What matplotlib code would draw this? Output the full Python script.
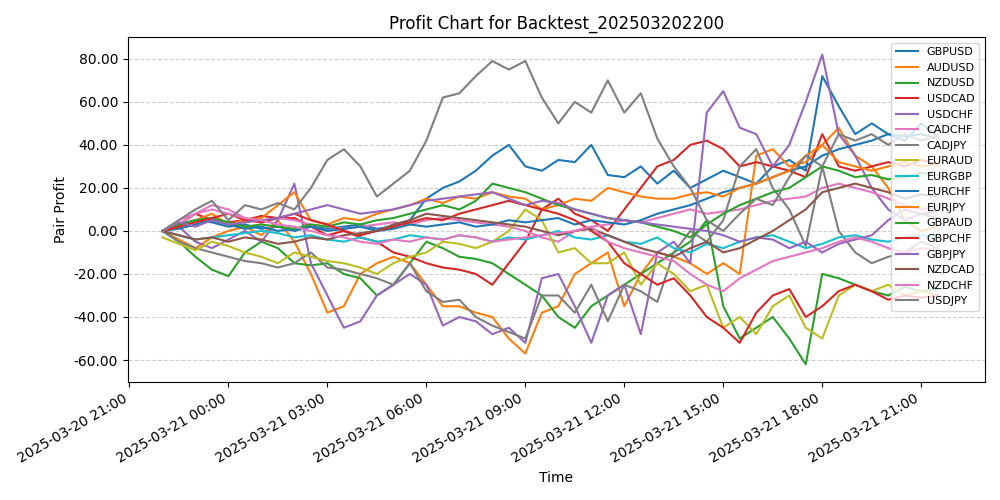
import matplotlib
matplotlib.use("Agg")
import matplotlib.pyplot as plt
import matplotlib.dates as mdates
import pandas as pd

times = pd.date_range("2025-03-20 22:00", "2025-03-21 21:30", freq="30min")

GBPUSD = [0,3,5,4,2,3,1,2,0,2,1,2,3,1,2,5,15,20,23,28,35,40,30,28,33,32,40,26,25,30,22,28,20,24,28,25,22,30,33,28,72,58,45,50,45,42,50,44]
AUDUSD = [0,-4,-8,-3,0,2,-2,5,-5,-20,-38,-35,-20,-15,-12,-15,-25,-35,-35,-38,-40,-50,-57,-38,-35,-20,-15,-10,-35,-20,-10,-12,-15,-20,-15,-20,35,38,30,32,40,48,35,30,20,5,0,2]
NZDUSD = [0,-5,-12,-18,-21,-10,-5,-8,-15,-16,-15,-20,-22,-30,-25,-15,-5,-8,-12,-13,-15,-20,-25,-30,-40,-45,-35,-30,-25,-20,-15,-10,-5,5,-35,-50,-45,-40,-50,-62,-20,-22,-25,-28,-30,-26,-28,-27]
USDCAD = [0,3,8,5,4,5,7,6,6,2,-2,0,-3,-5,-10,-12,-15,-17,-18,-20,-25,-15,-5,10,15,8,5,0,10,20,30,33,40,42,38,30,32,30,28,25,45,30,28,30,32,30,33,31]
USDCHF = [0,2,-5,-8,-4,0,-5,5,22,-15,-30,-45,-42,-30,-25,-20,-25,-44,-40,-42,-48,-45,-52,-22,-20,-35,-52,-30,-25,-48,-10,-5,-15,55,65,48,45,30,40,60,82,45,35,20,10,5,8,6]
CADCHF = [0,3,8,12,10,6,4,6,5,3,2,1,2,3,4,3,5,6,5,4,3,2,0,-3,-5,0,2,3,5,4,6,8,10,8,9,10,12,14,15,16,20,22,20,18,15,12,10,11]
CADJPY = [0,-5,-8,-10,-12,-14,-15,-17,-15,-10,-17,-18,-20,-22,-25,-15,-28,-33,-32,-40,-44,-47,-50,-30,-30,-38,-25,-42,-25,-28,-33,-10,0,-5,5,30,38,20,10,-7,30,0,-10,-15,-12,-10,-5,-8]
EURAUD = [-3,-6,-9,-5,-7,-10,-12,-15,-10,-12,-14,-15,-17,-20,-15,-12,-10,-5,-6,-8,-5,0,10,5,-10,-8,-15,-15,-10,-25,-15,-20,-28,-25,-45,-40,-48,-35,-30,-45,-50,-30,-25,-28,-25,-30,-28,-30]
EURGBP = [0,-2,-4,-3,-2,-1,0,-1,-3,-2,-4,-5,-3,-5,-4,-2,-3,-4,-2,-3,-5,-3,-4,-2,0,-3,-4,-2,-5,-6,-3,-8,-10,-6,-8,-5,-3,-2,-5,-8,-6,-3,-2,-4,-5,-3,-2,-3]
EURCHF = [0,1,3,5,3,1,2,0,1,2,0,1,2,0,1,3,2,3,4,2,3,5,4,5,6,3,5,4,3,5,8,10,12,15,18,20,22,25,28,30,35,38,40,42,45,44,45,43]
EURJPY = [0,2,5,8,3,5,6,12,18,5,3,6,5,8,10,12,15,13,16,15,18,16,15,10,12,15,14,20,18,16,15,15,17,18,16,20,22,25,28,35,40,32,30,28,30,32,30,31]
GBPAUD = [0,3,5,6,4,2,3,2,1,3,2,4,3,5,6,8,10,12,10,14,22,20,18,15,12,10,8,6,5,4,2,0,-3,3,8,12,15,18,20,25,30,28,25,26,24,25,27,26]
GBPCHF = [0,2,4,6,8,5,4,6,8,5,3,0,-2,0,2,4,6,5,8,10,12,14,12,10,8,5,0,-5,-15,-20,-25,-22,-30,-40,-45,-52,-38,-30,-27,-40,-35,-28,-25,-28,-32,-30,-31,-30]
GBPJPY = [0,4,2,5,3,4,5,6,8,10,12,10,8,9,10,12,14,15,16,17,18,15,12,14,13,10,8,6,5,4,3,2,1,0,-2,-5,-3,-4,-8,-5,-10,-6,-4,-2,5,10,8,9]
NZDCAD = [0,-2,-4,-3,-5,-3,-4,-6,-5,-3,-4,-2,-1,0,3,5,8,7,6,5,4,3,2,0,-2,0,1,-2,-5,-8,-10,-12,-8,-5,-10,-8,-4,0,5,10,18,20,22,20,18,15,17,16]
NZDCHF = [0,5,8,10,8,6,5,3,2,0,-2,-3,-5,-6,-4,-5,-3,-4,-2,-3,-5,-4,-3,-2,-1,0,2,-5,-8,-10,-12,-14,-20,-25,-28,-22,-18,-14,-12,-10,-8,-5,-3,-5,-8,-10,-8,-9]
USDJPY = [0,5,10,14,5,12,10,13,10,20,33,38,30,16,22,28,42,62,64,72,79,75,79,62,50,60,55,70,55,64,43,30,20,5,0,8,15,12,25,35,30,45,42,45,40,45,42,44]

names = ["GBPUSD", "AUDUSD", "NZDUSD", "USDCAD", "USDCHF", "CADCHF", "CADJPY",
         "EURAUD", "EURGBP", "EURCHF", "EURJPY", "GBPAUD", "GBPCHF", "GBPJPY",
         "NZDCAD", "NZDCHF", "USDJPY"]
data = [GBPUSD, AUDUSD, NZDUSD, USDCAD, USDCHF, CADCHF, CADJPY, EURAUD, EURGBP,
        EURCHF, EURJPY, GBPAUD, GBPCHF, GBPJPY, NZDCAD, NZDCHF, USDJPY]
colors = ["tab:blue", "tab:orange", "tab:green", "tab:red", "tab:purple", "tab:pink",
          "tab:gray", "tab:olive", "tab:cyan", "tab:blue", "tab:orange", "tab:green",
          "tab:red", "tab:purple", "tab:brown", "tab:pink", "tab:gray"]

fig, ax = plt.subplots(figsize=(10, 5), dpi=100)
for name, vals, c in zip(names, data, colors):
    ax.plot(times, vals, label=name, color=c, linewidth=1.5)

ax.set_title("Profit Chart for Backtest_202503202200")
ax.set_xlabel("Time")
ax.set_ylabel("Pair Profit")
ax.set_ylim(-70, 90)
ax.yaxis.set_major_formatter(matplotlib.ticker.FormatStrFormatter("%.2f"))
ax.set_xlim(pd.Timestamp("2025-03-20 20:57"), pd.Timestamp("2025-03-21 22:56"))
ax.xaxis.set_major_locator(mdates.HourLocator(byhour=[0, 3, 6, 9, 12, 15, 18, 21]))
ax.xaxis.set_major_formatter(mdates.DateFormatter("%Y-%m-%d %H:%M"))
ax.grid(axis="y", linestyle="--", alpha=0.6)
ax.legend(loc="upper right", fontsize=8)
fig.autofmt_xdate()
fig.tight_layout()
fig.savefig("out.png")
